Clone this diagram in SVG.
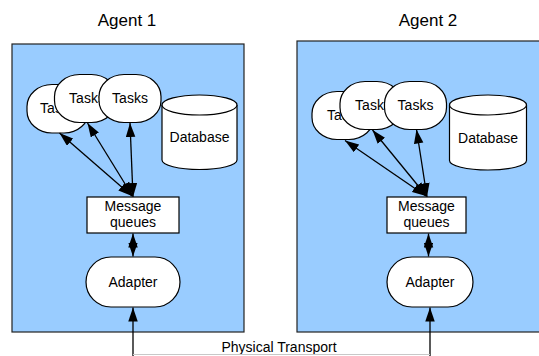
<svg xmlns="http://www.w3.org/2000/svg" width="539" height="356" viewBox="0 0 539 356">
  <style>
    text { font-family: "Liberation Sans", Arial, sans-serif; fill: #000; text-anchor: middle; }
    .title { font-size: 17px; }
    .lbl { font-size: 14px; }
    .panel { fill: #99ccff; stroke: #222; stroke-width: 1.2; }
    .shape { fill: #fff; stroke: #000; stroke-width: 1.2; }
    .conn { stroke: #000; stroke-width: 1.3; fill: none; marker-start: url(#head); marker-end: url(#head); }
    .up { stroke: #000; stroke-width: 1.3; fill: none; marker-end: url(#head); }
    .wire { stroke: #c8c8c8; stroke-width: 1.2; fill: none; }
  </style>
  <defs>
    <marker id="head" markerUnits="userSpaceOnUse" markerWidth="15" markerHeight="10" refX="14" refY="4.75" orient="auto-start-reverse">
      <path d="M0,0 L14,4.75 L0,9.5 Z" fill="#000"/>
    </marker>
  </defs>

  <rect width="539" height="356" fill="#fff"/>

  <!-- Agent 1 -->
  <g id="agent1">
    <text class="title" x="127" y="26">Agent 1</text>
    <rect class="panel" x="12" y="44" width="232" height="288"/>
  </g>
  <g id="agent1-task-a">
    <rect class="shape" x="27" y="84.5" width="62" height="48.5" rx="25" ry="22"/>
    <text class="lbl" x="58" y="113">Tasks</text>
  </g>
  <g id="agent1-task-b">
    <rect class="shape" x="54.5" y="74.5" width="62" height="48" rx="25" ry="22"/>
    <text class="lbl" x="87" y="103">Tasks</text>
  </g>
  <g id="agent1-task-c">
    <rect class="shape" x="99" y="74.5" width="62" height="48" rx="25" ry="22"/>
    <text class="lbl" x="130" y="103">Tasks</text>
  </g>
  <g id="agent1-database">
    <path class="shape" d="M162,105 A37.5,10 0 0 1 237,105 L237,160 A37.5,9.5 0 0 1 162,160 Z"/>
    <path class="shape" fill="none" d="M162,105 A37.5,10 0 0 0 237,105"/>
    <text class="lbl" x="199.5" y="142">Database</text>
  </g>
  <g id="agent1-queues">
    <rect class="shape" x="87" y="197" width="92" height="36"/>
    <text class="lbl" x="133" y="211">Message</text>
    <text class="lbl" x="133" y="227">queues</text>
  </g>
  <g id="agent1-adapter">
    <rect class="shape" x="86" y="257" width="94" height="50" rx="25" ry="25"/>
    <text class="lbl" x="133" y="287">Adapter</text>
  </g>

  <!-- Agent 2 -->
  <g id="agent2">
    <text class="title" x="428" y="26">Agent 2</text>
    <rect class="panel" x="297" y="41" width="260" height="291"/>
  </g>
  <g id="agent2-task-a">
    <rect class="shape" x="312" y="91.5" width="62" height="48" rx="25" ry="22"/>
    <text class="lbl" x="345" y="120">Tasks</text>
  </g>
  <g id="agent2-task-b">
    <rect class="shape" x="340" y="81.5" width="62" height="48" rx="25" ry="22"/>
    <text class="lbl" x="373" y="110">Tasks</text>
  </g>
  <g id="agent2-task-c">
    <rect class="shape" x="384.5" y="81.5" width="62" height="48" rx="25" ry="22"/>
    <text class="lbl" x="415.5" y="110">Tasks</text>
  </g>
  <g id="agent2-database">
    <path class="shape" d="M449.5,105 A38.5,10 0 0 1 526.5,105 L526.5,160.5 A38.5,9.5 0 0 1 449.5,160.5 Z"/>
    <path class="shape" fill="none" d="M449.5,105 A38.5,10 0 0 0 526.5,105"/>
    <text class="lbl" x="488" y="143">Database</text>
  </g>
  <g id="agent2-queues">
    <rect class="shape" x="387" y="197" width="79" height="36"/>
    <text class="lbl" x="426.5" y="211">Message</text>
    <text class="lbl" x="426.5" y="227">queues</text>
  </g>
  <g id="agent2-adapter">
    <rect class="shape" x="387" y="257" width="86" height="50" rx="25" ry="25"/>
    <text class="lbl" x="430" y="287">Adapter</text>
  </g>

  <!-- physical link label -->
  <g id="transport">
    <text class="lbl" x="279" y="351.5">Physical Transport</text>
  </g>

  <!-- connectors -->
  <g id="connectors">
    <line class="conn" x1="132" y1="196" x2="59.5" y2="133"/>
    <line class="conn" x1="132.5" y1="196" x2="87.5" y2="123"/>
    <line class="conn" x1="133" y1="197" x2="130" y2="123"/>
    <line class="conn" x1="133" y1="233.5" x2="133" y2="256.5"/>
    <line class="up" x1="133" y1="356" x2="133" y2="307.5"/>

    <line class="conn" x1="426" y1="196" x2="345" y2="140.5"/>
    <line class="conn" x1="426.5" y1="196" x2="372.5" y2="130"/>
    <line class="conn" x1="427" y1="197" x2="416.5" y2="129.5"/>
    <line class="conn" x1="428.5" y1="233.5" x2="428.5" y2="256.5"/>
    <line class="up" x1="430" y1="356" x2="430" y2="307.5"/>

    <line class="wire" x1="133" y1="354.5" x2="430" y2="354.5"/>
  </g>
</svg>
